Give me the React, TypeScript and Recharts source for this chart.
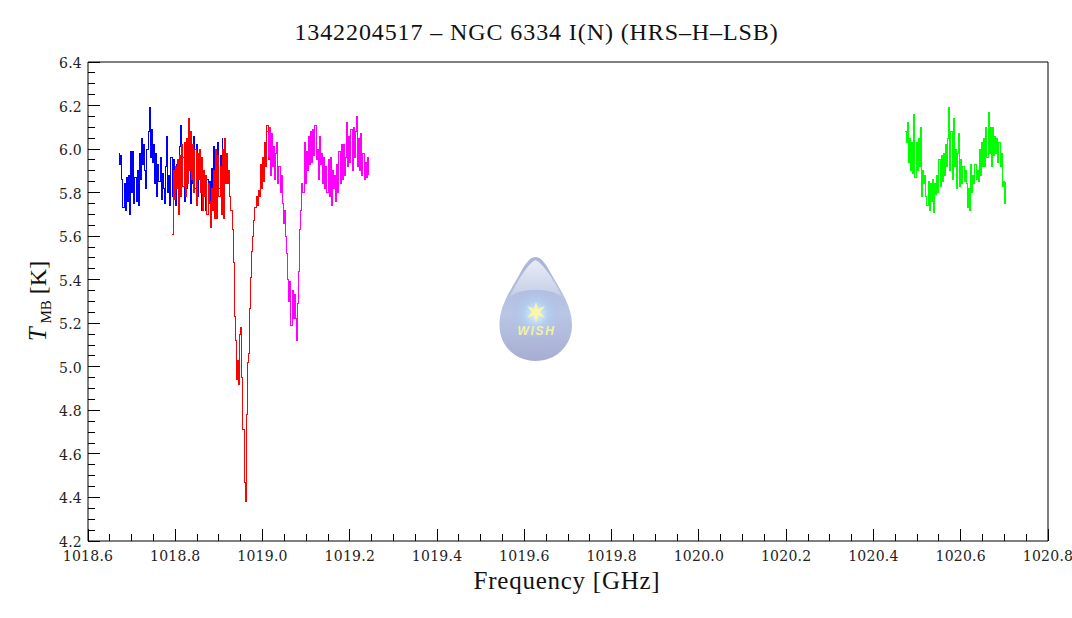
import { Line, LineChart, XAxis, YAxis } from "recharts";

const blueFreq = [
  1018.67, 1018.6725, 1018.675, 1018.6775, 1018.68, 1018.6825, 1018.685, 1018.6875, 1018.69, 1018.6925,
  1018.695, 1018.6975, 1018.7, 1018.7025, 1018.705, 1018.7075, 1018.71, 1018.7125, 1018.715, 1018.7175,
  1018.72, 1018.7225, 1018.725, 1018.7275, 1018.73, 1018.7325, 1018.735, 1018.7375, 1018.74, 1018.7425,
  1018.745, 1018.7475, 1018.75, 1018.7525, 1018.755, 1018.7575, 1018.76, 1018.7625, 1018.765, 1018.7675,
  1018.77, 1018.7725, 1018.775, 1018.7775, 1018.78, 1018.7825, 1018.785, 1018.7875, 1018.79, 1018.7925,
  1018.795, 1018.7975, 1018.8, 1018.8025, 1018.805, 1018.8075, 1018.81, 1018.8125, 1018.815, 1018.8175,
  1018.82, 1018.8225, 1018.825, 1018.8275, 1018.83, 1018.8325, 1018.835, 1018.8375, 1018.84, 1018.8425,
  1018.845, 1018.8475, 1018.85, 1018.8525, 1018.855, 1018.8575, 1018.86, 1018.8625, 1018.865, 1018.8675,
  1018.87, 1018.8725, 1018.875, 1018.8775, 1018.88, 1018.8825, 1018.885, 1018.8875, 1018.89, 1018.8925,
  1018.895, 1018.8975, 1018.9, 1018.9025, 1018.905, 1018.9075,
];
const blueTemp = [
  5.98, 5.93, 5.97, 5.86, 5.73, 5.84, 5.72, 5.87, 5.76, 5.88,
  5.7, 5.99, 5.8, 5.99, 5.75, 5.87, 5.76, 5.9, 5.74, 5.98,
  5.86, 6.05, 5.93, 6.02, 5.9, 5.82, 6.0, 6.08, 6.19, 5.96,
  6.09, 5.94, 6.02, 5.84, 5.98, 5.78, 5.93, 5.85, 5.96, 5.77,
  5.89, 5.82, 5.75, 5.92, 6.06, 5.8, 5.88, 5.74, 5.96, 5.78,
  5.95, 5.82, 5.74, 5.93, 5.83, 5.7, 6.01, 6.11, 5.84, 5.96,
  5.76, 5.98, 5.82, 6.05, 5.9, 6.0, 5.75, 5.96, 5.84, 6.06,
  5.82, 6.02, 5.78, 5.98, 5.86, 5.96, 5.72, 5.89, 5.78, 5.86,
  5.72, 5.86, 5.75, 5.85, 5.73, 5.91, 5.78, 6.01, 5.84, 5.97,
  5.78, 6.03, 5.82, 5.97, 5.88, 6.05,
];

const redFreq = [
  1018.7925, 1018.795, 1018.7975, 1018.8, 1018.8025, 1018.805, 1018.8075, 1018.81, 1018.8125, 1018.815,
  1018.8175, 1018.82, 1018.8225, 1018.825, 1018.8275, 1018.83, 1018.8325, 1018.835, 1018.8375, 1018.84,
  1018.8425, 1018.845, 1018.8475, 1018.85, 1018.8525, 1018.855, 1018.8575, 1018.86, 1018.8625, 1018.865,
  1018.8675, 1018.87, 1018.8725, 1018.875, 1018.8775, 1018.88, 1018.8825, 1018.885, 1018.8875, 1018.89,
  1018.8925, 1018.895, 1018.8975, 1018.9, 1018.9025, 1018.905, 1018.9075, 1018.91, 1018.9125, 1018.915,
  1018.9175, 1018.92, 1018.9225, 1018.925, 1018.9275, 1018.93, 1018.9325, 1018.935, 1018.9375, 1018.94,
  1018.9425, 1018.945, 1018.9475, 1018.95, 1018.9525, 1018.955, 1018.9575, 1018.96, 1018.9625, 1018.965,
  1018.9675, 1018.97, 1018.9725, 1018.975, 1018.9775, 1018.98, 1018.9825, 1018.985, 1018.9875, 1018.99,
  1018.9925, 1018.995, 1018.9975, 1019.0, 1019.0025, 1019.005, 1019.0075, 1019.01, 1019.0125, 1019.015,
  1019.0175, 1019.02,
];
const redTemp = [
  5.61, 5.9, 5.77, 5.92, 5.82, 5.95, 5.7, 5.97, 5.78, 6.02,
  5.83, 6.03, 5.78, 6.05, 5.84, 6.14, 5.9, 6.08, 5.86, 6.02,
  5.8, 6.0, 5.74, 5.98, 5.86, 6.0, 5.8, 5.96, 5.72, 5.9,
  5.78, 5.88, 5.7, 5.84, 5.76, 5.64, 5.82, 5.72, 5.9, 5.68,
  6.0, 5.68, 5.97, 5.78, 5.92, 5.7, 6.0, 5.68, 6.05, 5.84,
  5.98, 5.84, 5.9, 5.78, 5.72, 5.63, 5.48, 5.23, 5.12, 4.94,
  5.03, 4.92, 5.15, 5.18, 4.95, 4.71, 4.47, 4.38, 4.78, 5.02,
  5.06, 5.27, 5.41, 5.53, 5.6, 5.67, 5.73, 5.78, 5.74, 5.81,
  5.78, 5.93, 5.82, 5.96, 5.85, 6.03, 5.92, 6.11, 5.95, 6.06,
  5.98, 6.03,
];

const magentaFreq = [
  1019.01, 1019.0125, 1019.015, 1019.0175, 1019.02, 1019.0225, 1019.025, 1019.0275, 1019.03, 1019.0325,
  1019.035, 1019.0375, 1019.04, 1019.0425, 1019.045, 1019.0475, 1019.05, 1019.0525, 1019.055, 1019.0575,
  1019.06, 1019.0625, 1019.065, 1019.0675, 1019.07, 1019.0725, 1019.075, 1019.0775, 1019.08, 1019.0825,
  1019.085, 1019.0875, 1019.09, 1019.0925, 1019.095, 1019.0975, 1019.1, 1019.1025, 1019.105, 1019.1075,
  1019.11, 1019.1125, 1019.115, 1019.1175, 1019.12, 1019.1225, 1019.125, 1019.1275, 1019.13, 1019.1325,
  1019.135, 1019.1375, 1019.14, 1019.1425, 1019.145, 1019.1475, 1019.15, 1019.1525, 1019.155, 1019.1575,
  1019.16, 1019.1625, 1019.165, 1019.1675, 1019.17, 1019.1725, 1019.175, 1019.1775, 1019.18, 1019.1825,
  1019.185, 1019.1875, 1019.19, 1019.1925, 1019.195, 1019.1975, 1019.2, 1019.2025, 1019.205, 1019.2075,
  1019.21, 1019.2125, 1019.215, 1019.2175, 1019.22, 1019.2225, 1019.225, 1019.2275, 1019.23, 1019.2325,
  1019.235, 1019.2375, 1019.24, 1019.2425,
];
const magentaTemp = [
  6.08, 5.96, 6.1, 5.88, 6.07, 5.92, 6.01, 5.86, 5.98, 6.03,
  5.84, 5.92, 5.8, 5.88, 5.75, 5.66, 5.72, 5.6, 5.52, 5.4,
  5.3, 5.39, 5.19, 5.35, 5.22, 5.33, 5.22, 5.12, 5.29, 5.44,
  5.63, 5.72, 5.84, 5.8, 6.03, 5.84, 5.99, 5.9, 6.06, 5.93,
  6.08, 5.94, 6.09, 5.97, 6.11, 5.95, 6.0, 5.86, 6.06, 5.93,
  5.98, 5.84, 5.96, 5.82, 5.92, 5.8, 5.95, 5.78, 5.96, 5.74,
  5.9, 5.82, 5.88, 5.76, 5.93, 5.8, 5.99, 5.84, 6.02, 5.86,
  6.02, 5.88, 5.96, 6.12, 5.92, 6.06, 5.94, 6.09, 5.9, 6.1,
  5.96, 6.08, 6.15, 5.92, 6.05, 5.9, 6.07, 5.88, 5.98, 5.86,
  5.94, 5.87, 5.96, 5.88,
];

const greenFreq = [
  1020.4725, 1020.475, 1020.4775, 1020.48, 1020.4825, 1020.485, 1020.4875, 1020.49, 1020.4925, 1020.495,
  1020.4975, 1020.5, 1020.5025, 1020.505, 1020.5075, 1020.51, 1020.5125, 1020.515, 1020.5175, 1020.52,
  1020.5225, 1020.525, 1020.5275, 1020.53, 1020.5325, 1020.535, 1020.5375, 1020.54, 1020.5425, 1020.545,
  1020.5475, 1020.55, 1020.5525, 1020.555, 1020.5575, 1020.56, 1020.5625, 1020.565, 1020.5675, 1020.57,
  1020.5725, 1020.575, 1020.5775, 1020.58, 1020.5825, 1020.585, 1020.5875, 1020.59, 1020.5925, 1020.595,
  1020.5975, 1020.6, 1020.6025, 1020.605, 1020.6075, 1020.61, 1020.6125, 1020.615, 1020.6175, 1020.62,
  1020.6225, 1020.625, 1020.6275, 1020.63, 1020.6325, 1020.635, 1020.6375, 1020.64, 1020.6425, 1020.645,
  1020.6475, 1020.65, 1020.6525, 1020.655, 1020.6575, 1020.66, 1020.6625, 1020.665, 1020.6675, 1020.67,
  1020.6725, 1020.675, 1020.6775, 1020.68, 1020.6825, 1020.685, 1020.6875, 1020.69, 1020.6925, 1020.695,
  1020.6975, 1020.7, 1020.7025,
];
const greenTemp = [
  6.08, 6.03, 6.12, 5.94, 6.05, 5.9, 6.03, 5.89, 6.16, 5.87,
  6.03, 5.9, 6.05, 5.92, 6.1, 5.78, 5.9, 5.84, 5.88, 5.78,
  5.74, 5.85, 5.72, 5.84, 5.76, 5.86, 5.71, 5.84, 5.79, 5.88,
  5.8, 5.95, 5.83, 5.97, 5.85, 5.98, 5.88, 6.02, 5.92, 6.05,
  6.19, 5.9, 6.08, 5.86, 6.14, 5.92, 6.0, 5.82, 5.98, 6.07,
  5.83, 5.95, 5.84, 5.92, 5.85, 5.9, 5.84, 5.73, 5.82, 5.72,
  5.93, 5.8, 5.88, 5.84, 5.93, 5.86, 5.9, 5.85, 6.0, 5.88,
  6.03, 5.92, 6.05, 5.92, 6.1, 5.96, 6.17, 5.98, 6.1, 5.92,
  6.1, 5.97, 6.06, 5.98, 6.05, 5.94, 6.03, 5.92, 5.98, 5.83,
  5.85, 5.75, 5.85,
];

const xTicks = [
  1018.6, 1018.65, 1018.7, 1018.75, 1018.8, 1018.85, 1018.9, 1018.95, 1019.0, 1019.05, 1019.1, 1019.15,
  1019.2, 1019.25, 1019.3, 1019.35, 1019.4, 1019.45, 1019.5, 1019.55, 1019.6, 1019.65, 1019.7, 1019.75,
  1019.8, 1019.85, 1019.9, 1019.95, 1020.0, 1020.05, 1020.1, 1020.15, 1020.2, 1020.25, 1020.3, 1020.35,
  1020.4, 1020.45, 1020.5, 1020.55, 1020.6, 1020.65, 1020.7, 1020.75, 1020.8,
];
const yTicks = [
  4.2, 4.25, 4.3, 4.35, 4.4, 4.45, 4.5, 4.55, 4.6, 4.65, 4.7, 4.75, 4.8, 4.85, 4.9, 4.95, 5.0, 5.05, 5.1,
  5.15, 5.2, 5.25, 5.3, 5.35, 5.4, 5.45, 5.5, 5.55, 5.6, 5.65, 5.7, 5.75, 5.8, 5.85, 5.9, 5.95, 6.0, 6.05,
  6.1, 6.15, 6.2, 6.25, 6.3, 6.35, 6.4,
];

const rows = (freq: number[], temp: number[]) => freq.map((f, i) => ({ f, t: temp[i] }));

const SERIF = "'Liberation Serif', serif";
const TICK_FONT = "'DejaVu Serif', serif";

const isMajor = (v: number) => Math.abs(v * 5 - Math.round(v * 5)) < 1e-6;
const tickLen = (v: number) => (isMajor(v) ? 12 : 7);

function BottomTick({ x, y, payload }: any) {
  const v = payload.value;
  return (
    <g>
      <line x1={x} x2={x} y1={y} y2={y - tickLen(v)} stroke="#000" shapeRendering="crispEdges" />
      {isMajor(v) && (
        <text x={x} y={y + 20} textAnchor="middle" fontFamily={TICK_FONT} fontSize={14} letterSpacing={0.25} fill="#222">
          {v.toFixed(1)}
        </text>
      )}
    </g>
  );
}

function TopTick({ x, y, payload }: any) {
  return <line x1={x} x2={x} y1={y} y2={y + tickLen(payload.value)} stroke="#000" shapeRendering="crispEdges" />;
}

function LeftTick({ x, y, payload }: any) {
  const v = payload.value;
  return (
    <g>
      <line x1={x} x2={x + tickLen(v)} y1={y} y2={y} stroke="#000" shapeRendering="crispEdges" />
      {isMajor(v) && (
        <text x={x - 6} y={y + 6} textAnchor="end" fontFamily={TICK_FONT} fontSize={14} letterSpacing={0.25} fill="#222">
          {v.toFixed(1)}
        </text>
      )}
    </g>
  );
}

function RightTick({ x, y, payload }: any) {
  return <line x1={x} x2={x - tickLen(payload.value)} y1={y} y2={y} stroke="#000" shapeRendering="crispEdges" />;
}

function WishLogo() {
  const drop = "M535.5,257 C529,257 524,266 518,277 C510,291 499,307 499.5,326 C500,346 515,361 535.5,361 C556,361 571.5,346 572,326 C572.5,307 561,291 553,277 C547,266 542,257 535.5,257 Z";
  return (
    <g>
      <defs>
        <linearGradient id="dropFill" x1="0" x2="0" y1="0" y2="1">
          <stop offset="0" stopColor="#a9b4d6" />
          <stop offset="0.55" stopColor="#bac6e6" />
          <stop offset="1" stopColor="#a7add2" />
        </linearGradient>
        <linearGradient id="dropShine" x1="0" x2="0" y1="0" y2="1">
          <stop offset="0" stopColor="#e8ecf6" />
          <stop offset="1" stopColor="#c3cde6" />
        </linearGradient>
        <radialGradient id="dropGlow">
          <stop offset="0" stopColor="#e6f2fb" />
          <stop offset="0.5" stopColor="#b4cff0" />
          <stop offset="1" stopColor="#afc0e6" stopOpacity={0.3} />
        </radialGradient>
      </defs>
      <path d={drop} fill="url(#dropFill)" />
      <path d="M535.5,260 C529,263 520,276 509,298 C518,287 553,287 563,298 C552,276 542,263 535.5,260 Z" fill="url(#dropShine)" />
      <circle cx={536} cy={314} r={24} fill="url(#dropGlow)" />
      <path
        d="M536,302 L538,309 L545,306 L540,312 L545,318 L538,315 L536,323 L534,315 L527,318 L532,312 L527,306 L534,309 Z"
        fill="#fbf7a4"
      />
      <text x={536.5} y={335} textAnchor="middle" fontFamily="'Liberation Sans', sans-serif" fontSize={12} fontWeight={700} fontStyle="italic" letterSpacing={1.7} fill="#f3f0a6">
        WISH
      </text>
    </g>
  );
}

const lineLook = { type: "stepAfter", strokeWidth: 1, shapeRendering: "crispEdges", dot: false, isAnimationActive: false } as const;

export default function App() {
  return (
    <div style={{ position: "absolute", left: 0, top: 0 }}>
      <LineChart width={1072} height={618} margin={{ top: 61, right: 23, bottom: 76, left: 87 }}>
        <XAxis xAxisId="b" type="number" dataKey="f" domain={[1018.6, 1020.8]} ticks={xTicks} interval={0} height={1} tickSize={0} tickMargin={0} tickLine={false} tick={BottomTick} axisLine={{ stroke: "#000" }} allowDuplicatedCategory={false} />
        <XAxis xAxisId="t" orientation="top" type="number" dataKey="f" domain={[1018.6, 1020.8]} ticks={xTicks} interval={0} height={1} tickSize={0} tickMargin={0} tickLine={false} tick={TopTick} axisLine={{ stroke: "#000" }} allowDuplicatedCategory={false} />
        <YAxis yAxisId="l" type="number" domain={[4.2, 6.4]} ticks={yTicks} interval={0} width={1} tickSize={0} tickMargin={0} tickLine={false} tick={LeftTick} axisLine={{ stroke: "#000" }} />
        <YAxis yAxisId="r" orientation="right" type="number" domain={[4.2, 6.4]} ticks={yTicks} interval={0} width={1} tickSize={0} tickMargin={0} tickLine={false} tick={RightTick} axisLine={{ stroke: "#000" }} />
        <Line xAxisId="b" yAxisId="l" data={rows(blueFreq, blueTemp)} dataKey="t" stroke="#0000ff" {...lineLook} />
        <Line xAxisId="b" yAxisId="l" data={rows(redFreq, redTemp)} dataKey="t" stroke="#ff0000" {...lineLook} />
        <Line xAxisId="b" yAxisId="l" data={rows(magentaFreq, magentaTemp)} dataKey="t" stroke="#ff00ff" {...lineLook} />
        <Line xAxisId="b" yAxisId="l" data={rows(greenFreq, greenTemp)} dataKey="t" stroke="#00ff00" {...lineLook} />
        <WishLogo />
        <text x={536.5} y={40} textAnchor="middle" fontFamily={SERIF} fontSize={24} letterSpacing={0.9} fill="#111">
          1342204517 – NGC 6334 I(N) (HRS–H–LSB)
        </text>
        <text x={567} y={589} textAnchor="middle" fontFamily={SERIF} fontSize={25} letterSpacing={0.75} fill="#111">
          Frequency [GHz]
        </text>
        <text transform="translate(46,301) rotate(-90)" textAnchor="middle" fontFamily={SERIF} fill="#111">
          <tspan fontSize={25} fontStyle="italic">T</tspan>
          <tspan fontSize={15} dy={5}> MB</tspan>
          <tspan fontSize={24} dy={-5}> [K]</tspan>
        </text>
      </LineChart>
    </div>
  );
}
